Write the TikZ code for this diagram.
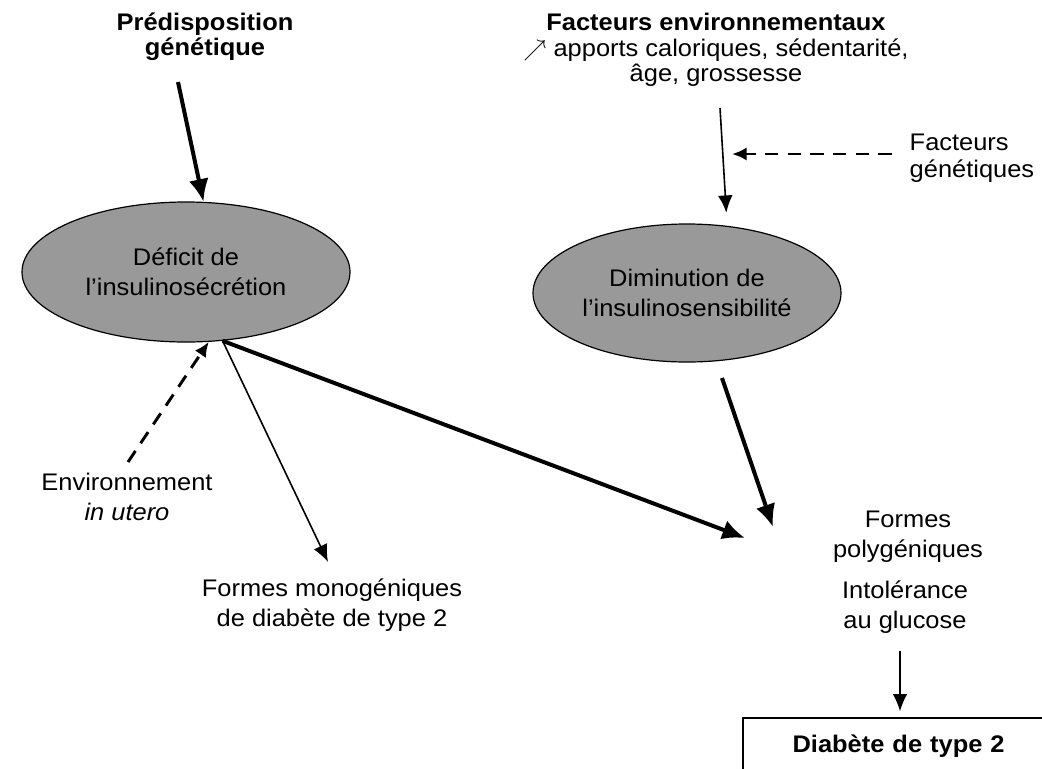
\documentclass[tikz,border=0pt]{standalone}
\usepackage{fontspec}
\setmainfont{Liberation Sans}[FakeStretch=1.06]
\usetikzlibrary{arrows.meta,shapes.geometric}

\begin{document}
\begin{tikzpicture}[x=0.75pt,y=-0.75pt,
	font=\fontsize{18}{22.5}\selectfont,
	blob/.style={ellipse,draw,line width=0.9pt,fill=black!40,align=center,inner sep=0pt},
	bigarrow/.style={line width=3pt,-{Latex[length=17pt,width=15pt]}},
	thinarrow/.style={line width=1.2pt,-{Latex[length=13pt,width=11pt]}},
	dasharrow/.style={line width=2.2pt,dash pattern=on 10pt off 7pt,-{Latex[length=11pt,width=10pt]}}]
	\useasboundingbox (0,0) rectangle (1042,768);
	\clip (0,0) rectangle (1042,768);
	% causes
	\node[align=center,font=\fontsize{18}{19}\selectfont\bfseries] (pred) at (205,37) {Prédisposition\\génétique};
	\node[align=center,font=\fontsize{18}{19}\selectfont] (envfac) at (716,50) {\textbf{Facteurs environnementaux}\\$\nearrow$ apports caloriques, sédentarité,\\âge, grossesse};
	\node[align=left,anchor=west,font=\fontsize{18}{20.5}\selectfont] (gen) at (905,158) {Facteurs\\génétiques};
	% defects
	\node[blob,minimum width=246pt,minimum height=105pt] (defic) at (186,272) {Déficit de\\l’insulinosécrétion};
	\node[blob,minimum width=231pt,minimum height=103.5pt] (dimin) at (687,293) {Diminution de\\l’insulinosensibilité};
	% outcomes
	\node[align=center] (envut) at (127,497) {Environnement\\\textit{in utero}};
	\node[align=center] (mono) at (332,605) {Formes monogéniques\\de diabète de type 2};
	\node[align=center] (poly) at (908,537) {Formes\\polygéniques};
	\node[align=center] (intol) at (905,607) {Intolérance\\au glucose};
	\node[anchor=north west,text height=13.5pt,text depth=20pt,inner ysep=12pt,text width=300pt,inner xsep=37pt,align=left,font=\fontsize{18}{22.5}\selectfont\bfseries] (dt2) at (743,718) {Diabète de type 2};
	\draw[line width=1.3pt] (dt2.south west) -- (dt2.north west) -- (dt2.north east);
	% free ends
	\coordinate (predout) at (178,82);
	\coordinate (envout) at (720,108);
	\coordinate (envmid) at (732,154);
	\coordinate (utout) at (128,462);
	\coordinate (dimout) at (722,378);
	\coordinate (polyA) at (745,538);
	\coordinate (polyB) at (773,527);
	% arrows
	\draw[bigarrow] (predout) -- (defic.76);
	\draw[thinarrow,shorten >=8pt] (envout) -- ([xshift=30pt]dimin.north);
	\draw[dasharrow,shorten <=10pt] (gen.west |- envmid) -- (envmid);
	\draw[dasharrow] (utout) -- (defic.-72);
	\draw[bigarrow] (defic.-62) -- (polyA);
	\draw[thinarrow] (defic.-62) -- ([xshift=-3pt,yshift=9pt]mono.north);
	\draw[bigarrow] (dimout) -- (polyB);
	\draw[thinarrow,shorten <=10pt,shorten >=5pt] (intol.south -| dt2.north west) ++(157,0) coordinate (intolout) -- (intolout |- dt2.north);
\end{tikzpicture}
\end{document}
